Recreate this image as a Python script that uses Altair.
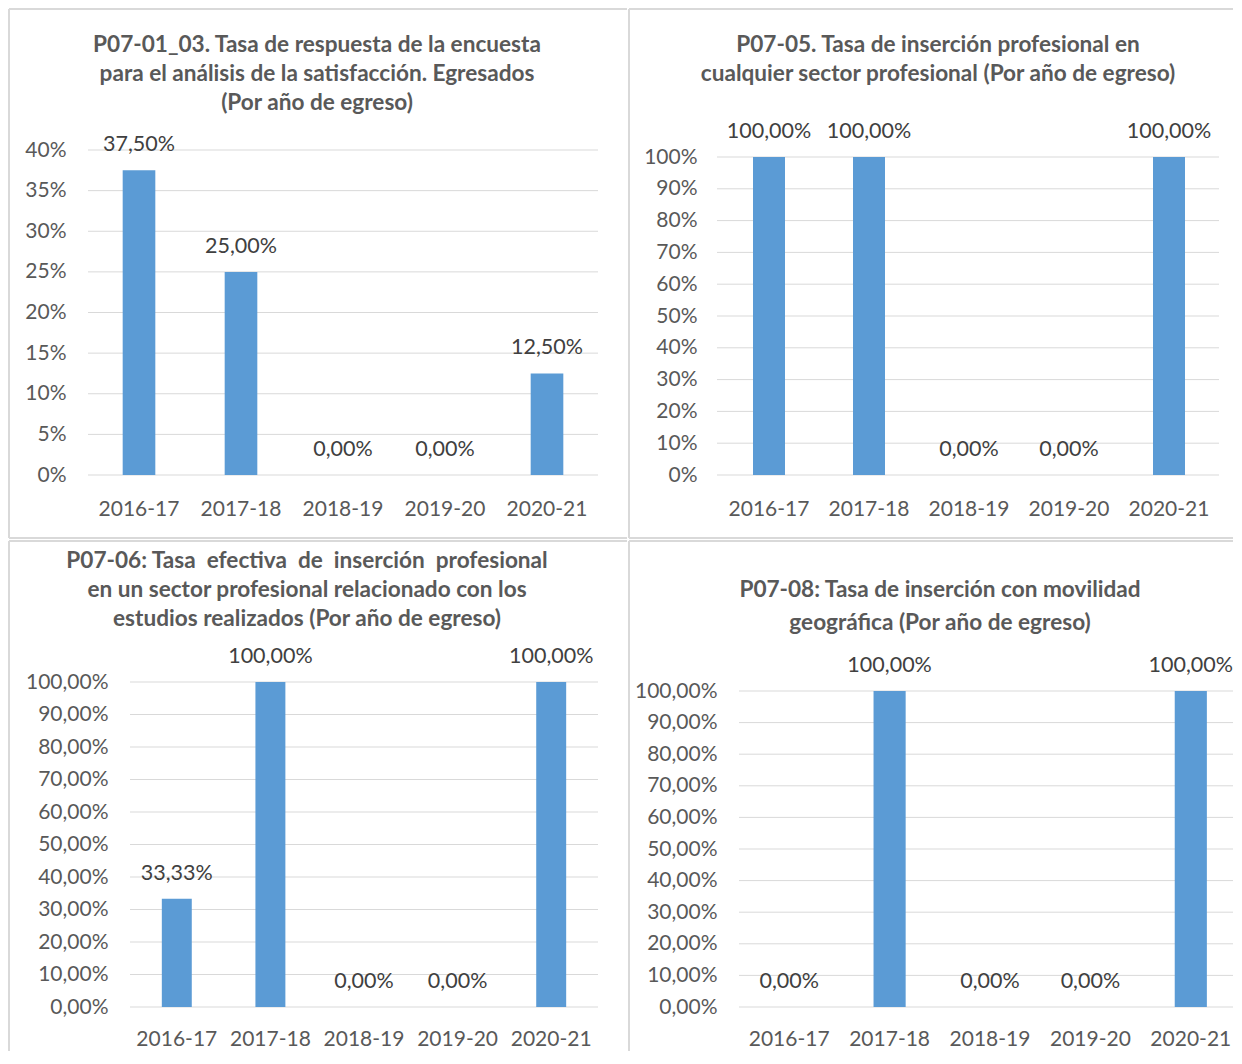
import altair as alt
import pandas as pd

# ---------------- data ----------------
categories = ["2016-17", "2017-18", "2018-19", "2019-20", "2020-21"]

tasa_respuesta = [0.375, 0.25, 0.0, 0.0, 0.125]
insercion_cualquier = [1.0, 1.0, 0.0, 0.0, 1.0]
insercion_relacionado = [0.3333, 1.0, 0.0, 0.0, 1.0]
insercion_movilidad = [0.0, 1.0, 0.0, 0.0, 1.0]

ticks_40 = [0.0, 0.05, 0.10, 0.15, 0.20, 0.25, 0.30, 0.35, 0.40]
ticks_100 = [0.0, 0.1, 0.2, 0.3, 0.4, 0.5, 0.6, 0.7, 0.8, 0.9, 1.0]

title_1 = ["P07-01_03. Tasa de respuesta de la encuesta",
           "para el análisis de la satisfacción. Egresados",
           "(Por año de egreso)"]
title_2 = ["P07-05. Tasa de inserción profesional en",
           "cualquier sector profesional (Por año de egreso)"]
title_3 = ["P07-06: Tasa\u00a0 efectiva\u00a0 de\u00a0 inserción\u00a0 profesional",
           "en un sector profesional relacionado con los",
           "estudios realizados (Por año de egreso)"]
title_4 = ["P07-08: Tasa de inserción con movilidad",
           "geográfica (Por año de egreso)"]

# ---------------- style ----------------
FONT = "Lato"
BAR = "#5B9BD5"
GRID = "#D9D9D9"
BORDER = "#D9D9D9"
TXT = "#595959"
LBL = "#404040"


def panel(values, ymax, ticks, fmt, title, W, H, xr, yr, gx, title_x, title_ys,
          xlab_pad, borders):
    df = pd.DataFrame({"cat": categories, "v": values})
    yscale = alt.Scale(domain=[0, ymax], range=yr, nice=False, zero=True)
    xscale = alt.Scale(domain=categories, range=xr, paddingInner=0.68, paddingOuter=0.34)
    label_expr = f"replace(format(datum.value, '{fmt}'), '.', ',')"

    xaxis = alt.Axis(title=None, labelAngle=0, domain=False, ticks=False, grid=False,
                     labelPadding=xlab_pad, offset=yr[0] - H, labelFont=FONT,
                     labelFontSize=21, labelColor=TXT)
    yaxis = alt.Axis(title=None, values=ticks, labelExpr=label_expr, domain=False,
                     ticks=False, grid=False, labelPadding=22, offset=-xr[0],
                     labelFont=FONT, labelFontSize=21, labelColor=TXT)

    gdf = pd.DataFrame({"v": ticks})
    grid = alt.Chart(gdf).mark_rule(color=GRID, strokeWidth=1).encode(
        y=alt.Y("v:Q", scale=yscale, axis=yaxis),
        x=alt.value(gx[0]), x2=alt.value(gx[1]),
    )

    bars = alt.Chart(df).mark_bar(color=BAR).encode(
        x=alt.X("cat:N", sort=categories, scale=xscale, axis=xaxis),
        y=alt.Y("v:Q", scale=yscale, axis=yaxis),
    )

    labels = alt.Chart(df).transform_calculate(
        lbl="replace(format(datum.v, '.2%'), '.', ',')"
    ).mark_text(font=FONT, fontSize=21.5, color=LBL, baseline="middle", dy=-25).encode(
        x=alt.X("cat:N", sort=categories, scale=xscale, axis=xaxis),
        y=alt.Y("v:Q", scale=yscale, axis=yaxis),
        text="lbl:N",
    )

    title_layers = []
    for line, ty in zip(title, title_ys):
        tdf = pd.DataFrame({"t": [line]})
        title_layers.append(alt.Chart(tdf).mark_text(
            font=FONT, fontSize=22.6, fontWeight="bold", color=TXT,
            align="center", baseline="middle",
        ).encode(text="t:N", x=alt.value(title_x), y=alt.value(ty)))

    bdf = pd.DataFrame({"a": [0]})
    rules = []
    if "left" in borders:
        rules.append(alt.Chart(bdf).mark_rule(color=BORDER, strokeWidth=2).encode(
            x=alt.value(0), y=alt.value(0), y2=alt.value(H)))
    if "top" in borders:
        rules.append(alt.Chart(bdf).mark_rule(color=BORDER, strokeWidth=2).encode(
            x=alt.value(0), x2=alt.value(W), y=alt.value(0)))
    if "bottom" in borders:
        rules.append(alt.Chart(bdf).mark_rule(color=BORDER, strokeWidth=2).encode(
            x=alt.value(0), x2=alt.value(W), y=alt.value(H)))

    return alt.layer(*rules, grid, bars, labels, *title_layers).properties(width=W, height=H)


p1 = panel(tasa_respuesta, 0.40, ticks_40, ".0%", title_1, 618, 529,
           [79, 589], [466, 141], [79, 589], 308, [36, 65, 94], 23,
           ["left", "top", "bottom"])
p2 = panel(insercion_cualquier, 1.0, ticks_100, ".0%", title_2, 604, 529,
           [90, 590], [466, 148], [88, 590], 309, [36, 65], 23,
           ["left", "top", "bottom"])
p3 = panel(insercion_relacionado, 1.0, ticks_100, ".2%", title_3, 618, 510,
           [121, 589], [466, 141], [121, 589], 298, [20, 49, 78], 21,
           ["left", "top"])
p4 = panel(insercion_movilidad, 1.0, ticks_100, ".2%", title_4, 604, 510,
           [110, 612], [466, 150], [110, 604], 311, [49, 82], 21,
           ["left", "top"])

chart = alt.concat(p1, p2, p3, p4, columns=2, spacing={"row": 1, "column": 0}).properties(
    padding=0, background="white"
).configure_view(strokeWidth=0)

chart.save("out.html", embed_options={"renderer": "svg", "actions": False})
